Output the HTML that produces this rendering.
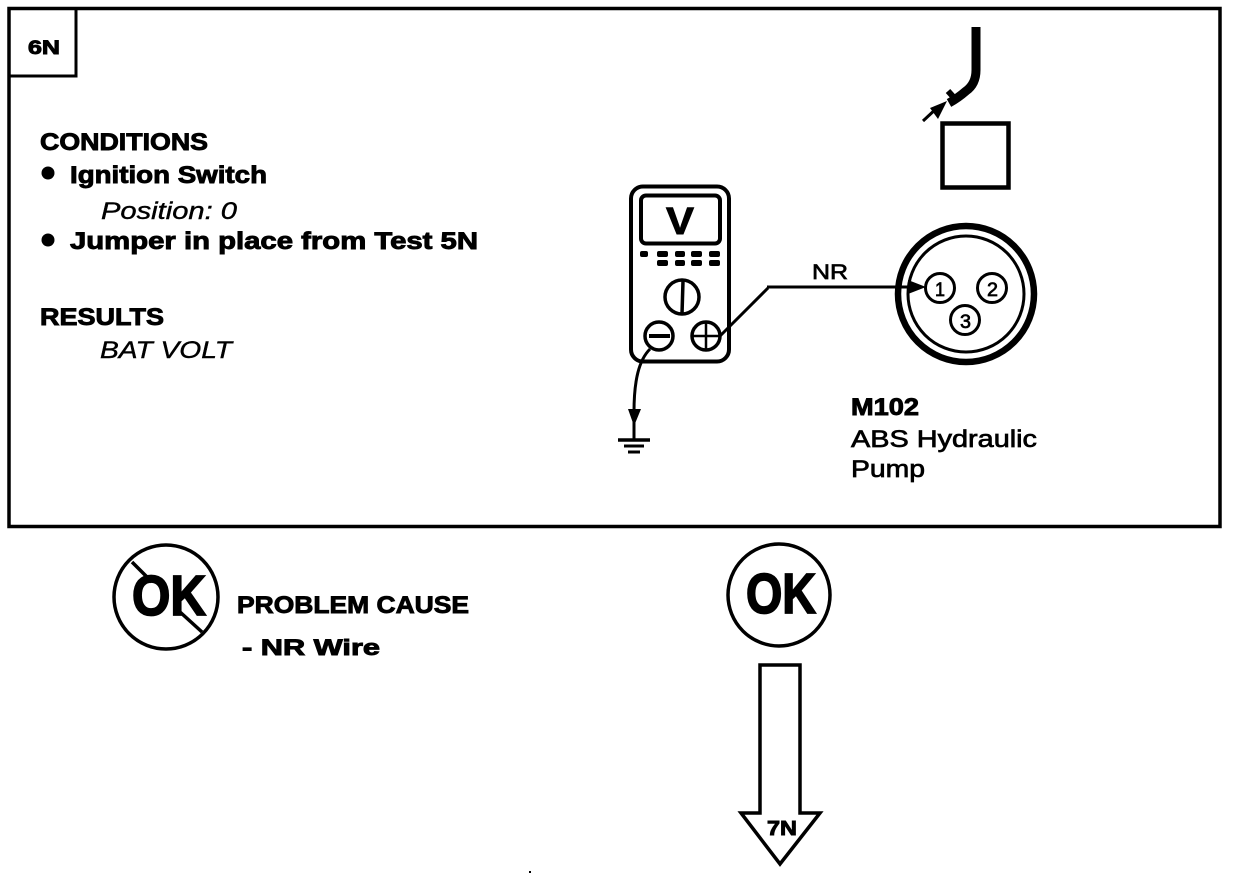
<!DOCTYPE html>
<html>
<head>
<meta charset="utf-8">
<style>
html,body{margin:0;padding:0;background:#fff;width:1248px;height:878px;overflow:hidden}
svg{display:block}
text{font-family:"Liberation Sans",sans-serif;fill:#000}
.b{font-weight:bold}
.bs{font-weight:bold;stroke:#000;stroke-width:.9}
.r{stroke:#000;stroke-width:.7}
.i{font-style:italic;stroke:#000;stroke-width:.4}
</style>
</head>
<body>
<svg width="1248" height="878" viewBox="0 0 1248 878" xmlns="http://www.w3.org/2000/svg">
<rect width="1248" height="878" fill="#fff"/>
<g fill="none" stroke="#000">
<rect x="9" y="8.500" width="1211" height="518" stroke-width="3.500"/>
<path d="M76 9V76H9" stroke-width="3"/>

<!-- meter -->
<rect x="631" y="186.500" width="98" height="175" rx="12" stroke-width="4"/>
<rect x="641" y="195.500" width="79" height="48" rx="5" stroke-width="4"/>
<circle cx="682" cy="297" r="17" stroke-width="3.500"/>
<path d="M683 281L682 314" stroke-width="3.500"/>
<circle cx="659" cy="336" r="14" stroke-width="3.500"/>
<path d="M649 336H670" stroke-width="4"/>
<circle cx="706" cy="336" r="14" stroke-width="3.500"/>
<path d="M693 336H720M706 322V350" stroke-width="2.500"/>

<!-- wires -->
<path d="M720 336L768 288" stroke-width="3"/>
<path d="M767 287H915" stroke-width="3"/>
<path d="M650 349C639 360 634 380 634 412V440" stroke-width="3"/>
<path d="M618 440H650" stroke-width="3.500"/>
<path d="M624 446H644" stroke-width="3"/>
<path d="M628 452H640" stroke-width="3"/>

<!-- connector -->
<path d="M976 27V70Q976 84 966 91Q958 98 949 103" stroke-width="9"/>
<path d="M948 91L957 101" stroke-width="6"/>
<rect x="942.500" y="123.500" width="66" height="64" stroke-width="4.500"/>
<path d="M923 121L938 107" stroke-width="3"/>
<circle cx="966" cy="294" r="68" stroke-width="6.500"/>
<circle cx="966" cy="294" r="58" stroke-width="3"/>
<circle cx="940" cy="288" r="14.500" stroke-width="3"/>
<circle cx="992" cy="288" r="14.500" stroke-width="3"/>
<circle cx="965" cy="320" r="14.500" stroke-width="3"/>

<!-- OK circles -->
<circle cx="166" cy="597" r="52" stroke-width="3.500"/>
<path d="M132 562L152 582M180 612L202 632" stroke-width="3.500"/>
<circle cx="779" cy="595" r="51" stroke-width="3.500"/>

<!-- block arrow -->
<path d="M760 665H800V813H820L780 864L741 813H760Z" stroke-width="3.500"/>
</g>

<g fill="#000">
<rect x="640" y="251" width="8" height="6" rx="2"/>
<rect x="657" y="251" width="11" height="6" rx="2"/>
<rect x="675" y="251" width="10" height="6" rx="2"/>
<rect x="691" y="251" width="11" height="6" rx="2"/>
<rect x="709" y="251" width="11" height="6" rx="2"/>
<rect x="657" y="260" width="11" height="6" rx="2"/>
<rect x="675" y="260" width="10" height="6" rx="2"/>
<rect x="691" y="260" width="11" height="6" rx="2"/>
<rect x="709" y="260" width="11" height="6" rx="2"/>
<circle cx="48" cy="173" r="6.500"/>
<circle cx="48" cy="240" r="6.500"/>
<path d="M628 409H641L634 426Z"/>
<path d="M926 287L908 280V294Z"/>
<path d="M947 101L930 108L938 119Z"/>
<rect x="529" y="871" width="2" height="2"/>
</g>

<text class="bs" x="28" y="54" font-size="19" textLength="32" lengthAdjust="spacingAndGlyphs">6N</text>
<text class="bs" x="40" y="150" font-size="24" textLength="168" lengthAdjust="spacingAndGlyphs">CONDITIONS</text>
<text class="bs" x="70" y="183" font-size="24" textLength="197" lengthAdjust="spacingAndGlyphs">Ignition Switch</text>
<text class="i" x="101" y="219" font-size="24" textLength="136" lengthAdjust="spacingAndGlyphs">Position: 0</text>
<text class="bs" x="70" y="249" font-size="24" textLength="408" lengthAdjust="spacingAndGlyphs">Jumper in place from Test 5N</text>
<text class="bs" x="40" y="325" font-size="24" textLength="124" lengthAdjust="spacingAndGlyphs">RESULTS</text>
<text class="i" x="100" y="358" font-size="24" textLength="132" lengthAdjust="spacingAndGlyphs">BAT VOLT</text>

<text class="bs" x="666" y="234" font-size="38" textLength="28" lengthAdjust="spacingAndGlyphs">V</text>
<text class="r" x="812" y="279" font-size="21" textLength="36" lengthAdjust="spacingAndGlyphs">NR</text>
<text class="r" x="935" y="296" font-size="19" textLength="10" lengthAdjust="spacingAndGlyphs">1</text>
<text class="r" x="987" y="296" font-size="19" textLength="11" lengthAdjust="spacingAndGlyphs">2</text>
<text class="r" x="960" y="328" font-size="19" textLength="11" lengthAdjust="spacingAndGlyphs">3</text>

<text class="bs" x="851" y="415" font-size="24" textLength="68" lengthAdjust="spacingAndGlyphs">M102</text>
<text class="r" x="851" y="447" font-size="24" textLength="186" lengthAdjust="spacingAndGlyphs">ABS Hydraulic</text>
<text class="r" x="851" y="477" font-size="24" textLength="74" lengthAdjust="spacingAndGlyphs">Pump</text>

<text class="b" x="132" y="615" font-size="57" textLength="74" lengthAdjust="spacingAndGlyphs" stroke="#000" stroke-width="1.800" style="stroke:#000;stroke-width:1.8">OK</text>
<text class="bs" x="237" y="613" font-size="24" textLength="232" lengthAdjust="spacingAndGlyphs">PROBLEM CAUSE</text>
<text class="bs" x="242" y="655" font-size="22" textLength="138" lengthAdjust="spacingAndGlyphs">- NR Wire</text>
<text class="b" x="746" y="613" font-size="57" textLength="70" lengthAdjust="spacingAndGlyphs" style="stroke:#000;stroke-width:1.8">OK</text>
<text class="bs" x="767" y="835" font-size="20" textLength="30" lengthAdjust="spacingAndGlyphs">7N</text>
</svg>
</body>
</html>
